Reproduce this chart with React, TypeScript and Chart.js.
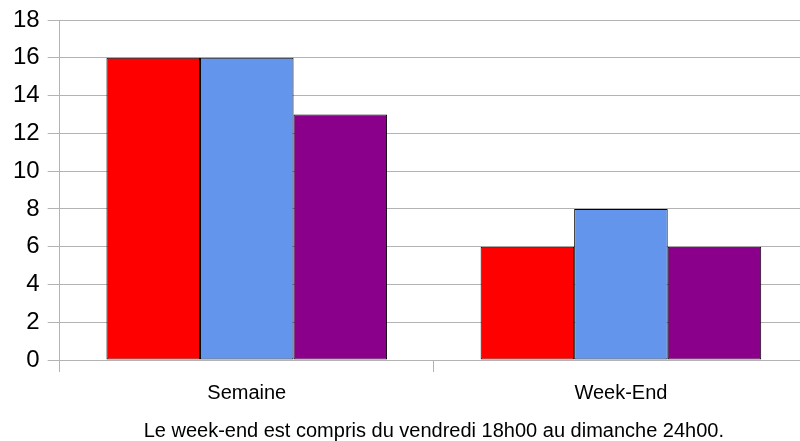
import React, { useEffect, useRef } from "react";
import { Chart, registerables } from "chart.js";

Chart.register(...registerables);

const categories = ["Semaine", "Week-End"];
const seriesA = [16, 6];
const seriesB = [16, 8];
const seriesC = [13, 6];
const yTicks = [0, 2, 4, 6, 8, 10, 12, 14, 16, 18];
const xTitle = "Le week-end est compris du vendredi 18h00 au dimanche 24h00.";

export default function App() {
  const ref = useRef<HTMLCanvasElement | null>(null);
  useEffect(() => {
    if (!ref.current) return;
    const chart = new Chart(ref.current, {
      type: "bar",
      data: {
        labels: categories,
        datasets: [
          { label: "A", data: seriesA, backgroundColor: "#ff0000", borderColor: "#000000", borderWidth: 1, borderSkipped: false },
          { label: "B", data: seriesB, backgroundColor: "#6495ed", borderColor: "#000000", borderWidth: 1, borderSkipped: false },
          { label: "C", data: seriesC, backgroundColor: "#8b008b", borderColor: "#000000", borderWidth: 1, borderSkipped: false },
        ],
      },
      options: {
        animation: false,
        responsive: false,
        maintainAspectRatio: false,
        layout: { padding: { top: 8, right: 0, left: 5, bottom: -2 } },
        plugins: { legend: { display: false }, tooltip: { enabled: false } },
        datasets: { bar: { categoryPercentage: 0.75, barPercentage: 1 } },
        scales: {
          x: {
            grid: { drawOnChartArea: false, drawTicks: true, tickLength: 12, color: "#b3b3b3" },
            border: { display: true, color: "#b3b3b3" },
            ticks: { color: "#000", font: { family: "'Liberation Sans', Arial, sans-serif", size: 20 }, padding: 9 },
            title: {
              display: true,
              text: xTitle,
              color: "#000",
              font: { family: "'Liberation Sans', Arial, sans-serif", size: 20 },
              padding: { top: 5, bottom: 0 },
            },
          },
          y: {
            min: 0,
            max: 18,
            afterBuildTicks: (axis: any) => {
              axis.ticks = yTicks.map((v) => ({ value: v }));
            },
            grid: { color: "#b3b3b3", tickLength: 12, drawTicks: true },
            border: { display: true, color: "#b3b3b3" },
            ticks: { color: "#000", font: { family: "'Liberation Sans', Arial, sans-serif", size: 24, lineHeight: 1 }, padding: 8 },
          },
        },
      },
    });
    return () => chart.destroy();
  }, []);
  return (
    <div style={{ position: "fixed", left: 0, top: 0, width: 800, height: 441, overflow: "hidden", background: "#fff" }}>
      <canvas ref={ref} width={808} height={441} style={{ display: "block" }} />
    </div>
  );
}
